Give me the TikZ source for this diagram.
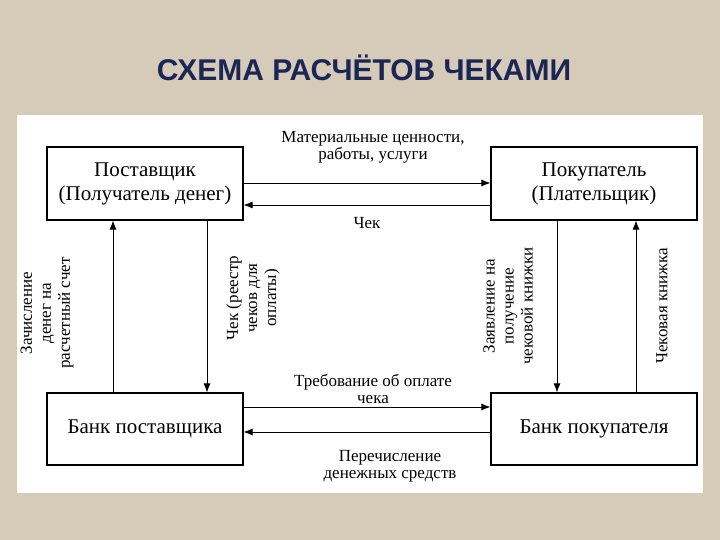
\documentclass[tikz,border=0pt]{standalone}
\usepackage{fontspec}
\usetikzlibrary{arrows.meta}
\setmainfont{Liberation Serif}
\newfontfamily\titlefont{Liberation Sans}
\begin{document}
\begin{tikzpicture}[x=1pt,y=-1pt,
  box/.style={draw,line width=1.2pt,fill=white,inner sep=0pt,font=\fontsize{21}{24}\selectfont,align=center},
  arr/.style={-{Latex[length=9pt,width=7pt]},line width=0.8pt},
  lab/.style={font=\fontsize{17}{17}\selectfont,align=center,inner sep=0pt},
  rlab/.style={lab,rotate=90,font=\fontsize{17}{19}\selectfont}]
\useasboundingbox (0,0) rectangle (720,540);
\fill[fill={rgb,255:red,214;green,203;blue,184}] (0,0) rectangle (720,540);
\node[font=\titlefont\bfseries\fontsize{30}{34}\selectfont,text={rgb,255:red,28;green,38;blue,84}] (title) at (364,68) {СХЕМА РАСЧЁТОВ ЧЕКАМИ};
\fill[white] (17,115) rectangle (703,493);
\node[box,minimum width=196pt,minimum height=73pt] (sup) at (145,183.5) {Поставщик\\(Получатель денег)};
\node[box,minimum width=206pt,minimum height=73pt] (buy) at (594,183.5) {Покупатель\\(Плательщик)};
\node[box,minimum width=196pt,minimum height=72pt] (bs) at (145,429) {Банк поставщика};
\node[box,minimum width=206pt,minimum height=72pt] (bb) at (594,429) {Банк покупателя};
\draw[arr] (sup.east |- 0,183) -- (buy.west |- 0,183);
\draw[arr] (buy.west |- 0,205) -- (sup.east |- 0,205);
\draw[arr] (bs.east |- 0,407) -- (bb.west |- 0,407);
\draw[arr] (bb.west |- 0,432) -- (bs.east |- 0,432);
\draw[arr] (bs.north -| 113,0) -- (sup.south -| 113,0);
\draw[arr] (sup.south -| 207,0) -- (bs.north -| 207,0);
\draw[arr] (buy.south -| 557,0) -- (bb.north -| 557,0);
\draw[arr] (bb.north -| 636,0) -- (buy.south -| 636,0);
\node[lab] (l1) at (373,147) {Материальные ценности,\\работы, услуги};
\node[lab] (l2) at (367,223) {Чек};
\node[lab] (l3) at (373,389) {Требование об оплате\\чека};
\node[lab] (l4) at (390,466) {Перечисление\\денежных средств};
\node[rlab] (l5) at (47,313) {Зачисление\\денег на\\расчетный счет};
\node[rlab] (l6) at (253,298) {Чек (реестр\\чеков для\\оплаты)};
\node[rlab] (l7) at (508,306) {Заявление на\\получение\\чековой книжки};
\node[rlab] (l8) at (662,306) {Чековая книжка};
\end{tikzpicture}
\end{document}
